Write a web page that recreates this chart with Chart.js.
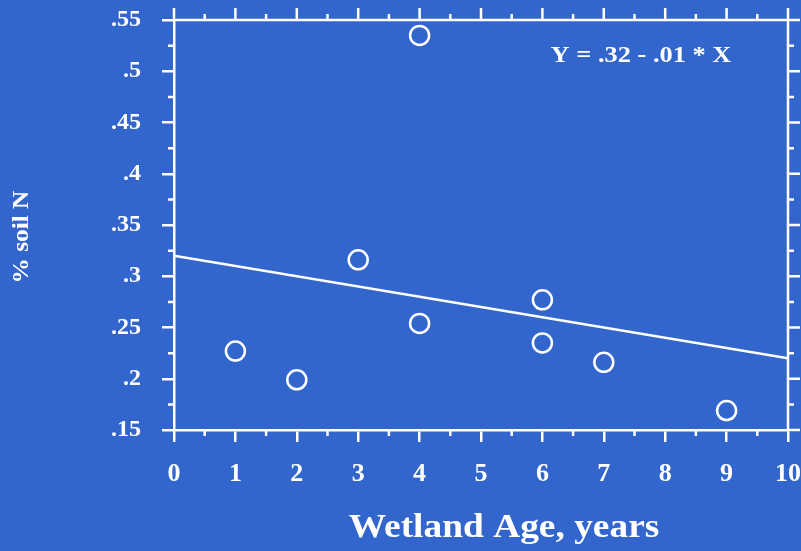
<!DOCTYPE html>
<html>
<head>
<meta charset="utf-8">
<script src="https://cdn.jsdelivr.net/npm/chart.js@4"></script>
<style>
  html, body { margin: 0; padding: 0; background: #3366CC; }
  #wrap { width: 801px; height: 551px; }
</style>
</head>
<body>
<div id="wrap"><canvas id="c" width="801" height="551"></canvas></div>
<script>
// Wetland age (years) and measured soil nitrogen (%)
const wetlandAge = [1, 2, 3, 4, 4, 6, 6, 7, 9];
const soilN = [0.227, 0.199, 0.316, 0.535, 0.254, 0.277, 0.235, 0.216, 0.169];

// Least-squares fit as reported: Y = .32 - .01 * X
const fitIntercept = 0.32;
const fitSlope = -0.01;
const fitRange = [0, 10];

const xTicks = [0, 1, 2, 3, 4, 5, 6, 7, 8, 9, 10];
const yTicks = [0.15, 0.2, 0.25, 0.3, 0.35, 0.4, 0.45, 0.5, 0.55];

const equationText = 'Y = .32 - .01 * X';
const xTitle = 'Wetland Age, years';
const yTitle = '% soil N';

const WHITE = '#ffffff';
const SERIF = '"Liberation Serif", "Times New Roman", serif';

const points = wetlandAge.map((x, i) => ({ x: x, y: soilN[i] }));
const fitLine = fitRange.map(x => ({ x: x, y: fitIntercept + fitSlope * x }));

function fmtY(v) {
  let s = (Math.round(v * 100) / 100).toFixed(2).replace(/0+$/, '');
  return s.replace(/^0/, '');
}

// Frame, minor ticks, opposite-side ticks and titles
const decorations = {
  id: 'decorations',
  afterDraw(chart) {
    const ctx = chart.ctx;
    const a = chart.chartArea;
    const xs = chart.scales.x, ys = chart.scales.y;
    ctx.save();
    ctx.strokeStyle = WHITE;
    ctx.lineWidth = 2.5;
    ctx.lineCap = 'butt';
    const major = 12, minor = 6;
    ctx.beginPath();
    // top and right frame lines
    ctx.moveTo(a.left, a.top); ctx.lineTo(a.right + major, a.top);
    ctx.moveTo(a.right, a.top - major); ctx.lineTo(a.right, a.bottom);
    // x-axis ticks (top all, bottom minor)
    for (let v = xTicks[0]; v <= xTicks[xTicks.length - 1] + 1e-9; v += 0.5) {
      const px = xs.getPixelForValue(v);
      const isMajor = Math.abs(v - Math.round(v)) < 1e-9;
      const len = isMajor ? major : minor;
      ctx.moveTo(px, a.top); ctx.lineTo(px, a.top - len);
      if (!isMajor) { ctx.moveTo(px, a.bottom); ctx.lineTo(px, a.bottom + len); }
    }
    // y-axis ticks (right all, left minor)
    for (let k = 0; k <= 16; k++) {
      const v = yTicks[0] + k * 0.025;
      const py = ys.getPixelForValue(v);
      const isMajor = k % 2 === 0;
      const len = isMajor ? major : minor;
      ctx.moveTo(a.right, py); ctx.lineTo(a.right + len, py);
      if (!isMajor) { ctx.moveTo(a.left, py); ctx.lineTo(a.left - len, py); }
    }
    ctx.stroke();

    ctx.fillStyle = WHITE;
    ctx.textAlign = 'center';
    ctx.textBaseline = 'middle';
    const wide = 1.1;
    // equation
    ctx.save();
    ctx.translate(641, 56);
    ctx.scale(wide, 1);
    ctx.font = 'bold 24px ' + SERIF;
    ctx.fillText(equationText, 0, 0);
    ctx.restore();
    // x title
    ctx.save();
    ctx.translate(504, 528);
    ctx.scale(wide, 1);
    ctx.font = 'bold 34px ' + SERIF;
    ctx.fillText(xTitle, 0, 0);
    ctx.restore();
    // y title
    ctx.save();
    ctx.translate(22, 237);
    ctx.rotate(-Math.PI / 2);
    ctx.scale(wide, 1);
    ctx.font = 'bold 23px ' + SERIF;
    ctx.fillText(yTitle, 0, 0);
    ctx.restore();
    ctx.restore();
  }
};

new Chart(document.getElementById('c'), {
  type: 'scatter',
  data: {
    datasets: [
      {
        label: 'fit',
        type: 'line',
        data: fitLine,
        borderColor: WHITE,
        borderWidth: 2.5,
        pointRadius: 0,
        fill: false,
        order: 2
      },
      {
        label: 'soil N',
        data: points,
        pointRadius: 9.5,
        pointHoverRadius: 9.5,
        pointBorderWidth: 2.5,
        borderColor: WHITE,
        backgroundColor: 'rgba(0,0,0,0)',
        pointBackgroundColor: 'rgba(0,0,0,0)',
        order: 1
      }
    ]
  },
  options: {
    responsive: false,
    animation: false,
    events: [],
    layout: { padding: { top: 20, right: 13, left: 0, bottom: 0 } },
    plugins: { legend: { display: false }, tooltip: { enabled: false } },
    scales: {
      x: {
        type: 'linear',
        min: xTicks[0],
        max: xTicks[xTicks.length - 1],
        afterBuildTicks(s) { s.ticks = xTicks.map(v => ({ value: v })); },
        afterFit(s) { s.height = 121; s.paddingLeft = 0; s.paddingRight = 0; },
        border: { display: true, color: WHITE, width: 2.5 },
        grid: { display: true, drawOnChartArea: false, drawTicks: true, tickLength: 12, color: WHITE, lineWidth: 2.5 },
        ticks: {
          color: WHITE,
          padding: 17,
          maxRotation: 0,
          autoSkip: false,
          font: { family: SERIF, size: 26, weight: 'bold' },
          callback: v => String(v)
        }
      },
      y: {
        type: 'linear',
        min: yTicks[0],
        max: yTicks[yTicks.length - 1],
        afterBuildTicks(s) { s.ticks = yTicks.map(v => ({ value: v })); },
        afterFit(s) { s.width = 174; s.paddingTop = 0; s.paddingBottom = 0; },
        border: { display: true, color: WHITE, width: 2.5 },
        grid: { display: true, drawOnChartArea: false, drawTicks: true, tickLength: 12, color: WHITE, lineWidth: 2.5 },
        ticks: {
          color: WHITE,
          padding: 21,
          autoSkip: false,
          font: { family: SERIF, size: 24, weight: 'bold' },
          callback: v => fmtY(v)
        }
      }
    }
  },
  plugins: [decorations]
});
</script>
</body>
</html>
